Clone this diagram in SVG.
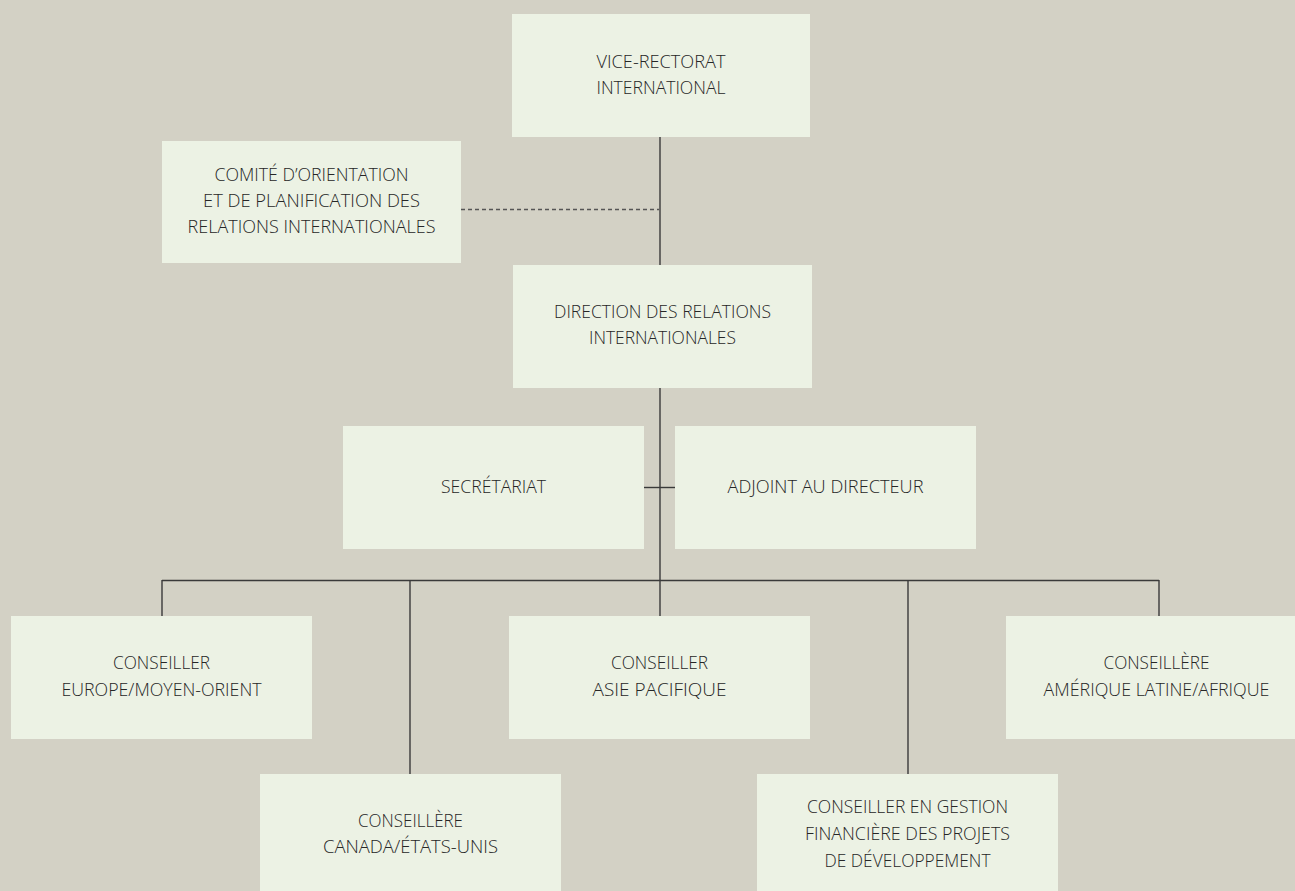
<svg xmlns="http://www.w3.org/2000/svg" width="1295" height="891" viewBox="0 0 1295 891">
<style>
.bg{fill:#d3d1c5}
.box{fill:#ecf2e4}
.t{font-family:"Open Sans","Liberation Sans",sans-serif;font-weight:300;font-size:18.5px;fill:#262626;text-anchor:middle}
.ln{stroke:#3a3a3a;stroke-width:1.4;fill:none}
.dash{stroke:#555;stroke-width:1.3;stroke-dasharray:4 3;fill:none}
</style>
<rect class="bg" x="0" y="0" width="1295" height="891"/>
<g id="connectors">
<line class="ln" x1="660" y1="137" x2="660" y2="265"/>
<line class="ln" x1="660" y1="388" x2="660" y2="616"/>
<line class="dash" x1="461" y1="209.5" x2="659" y2="209.5"/>
<line class="ln" x1="644" y1="487.5" x2="675" y2="487.5"/>
<line class="ln" x1="162" y1="580.5" x2="1159" y2="580.5"/>
<line class="ln" x1="162" y1="580" x2="162" y2="616"/>
<line class="ln" x1="410" y1="580" x2="410" y2="774"/>
<line class="ln" x1="908" y1="580" x2="908" y2="774"/>
<line class="ln" x1="1159" y1="580" x2="1159" y2="616"/>
</g>
<g id="vice-rectorat">
<rect class="box" x="512" y="14" width="298" height="123"/>
<text class="t" x="661" y="68" textLength="129" lengthAdjust="spacingAndGlyphs">VICE-RECTORAT</text>
<text class="t" x="661" y="94" textLength="129" lengthAdjust="spacingAndGlyphs">INTERNATIONAL</text>
</g>
<g id="comite">
<rect class="box" x="162" y="141" width="299" height="122"/>
<text class="t" x="311.5" y="181" textLength="194" lengthAdjust="spacingAndGlyphs">COMITÉ D’ORIENTATION</text>
<text class="t" x="311.5" y="207" textLength="217" lengthAdjust="spacingAndGlyphs">ET DE PLANIFICATION DES</text>
<text class="t" x="311.5" y="233" textLength="248" lengthAdjust="spacingAndGlyphs">RELATIONS INTERNATIONALES</text>
</g>
<g id="direction">
<rect class="box" x="513" y="265" width="299" height="123"/>
<text class="t" x="662.5" y="318" textLength="217" lengthAdjust="spacingAndGlyphs">DIRECTION DES RELATIONS</text>
<text class="t" x="662.5" y="344" textLength="147" lengthAdjust="spacingAndGlyphs">INTERNATIONALES</text>
</g>
<g id="secretariat">
<rect class="box" x="343" y="426" width="301" height="123"/>
<text class="t" x="493.5" y="493" textLength="105" lengthAdjust="spacingAndGlyphs">SECRÉTARIAT</text>
</g>
<g id="adjoint">
<rect class="box" x="675" y="426" width="301" height="123"/>
<text class="t" x="825.5" y="493" textLength="196" lengthAdjust="spacingAndGlyphs">ADJOINT AU DIRECTEUR</text>
</g>
<g id="europe">
<rect class="box" x="11" y="616" width="301" height="123"/>
<text class="t" x="161.5" y="669" textLength="97" lengthAdjust="spacingAndGlyphs">CONSEILLER</text>
<text class="t" x="161.5" y="696" textLength="200" lengthAdjust="spacingAndGlyphs">EUROPE/MOYEN-ORIENT</text>
</g>
<g id="asie">
<rect class="box" x="509" y="616" width="301" height="123"/>
<text class="t" x="659.5" y="669" textLength="97" lengthAdjust="spacingAndGlyphs">CONSEILLER</text>
<text class="t" x="659.5" y="696" textLength="134" lengthAdjust="spacingAndGlyphs">ASIE PACIFIQUE</text>
</g>
<g id="amerique">
<rect class="box" x="1006" y="616" width="301" height="123"/>
<text class="t" x="1156.5" y="669" textLength="106" lengthAdjust="spacingAndGlyphs">CONSEILLÈRE</text>
<text class="t" x="1156.5" y="696" textLength="226" lengthAdjust="spacingAndGlyphs">AMÉRIQUE LATINE/AFRIQUE</text>
</g>
<g id="canada">
<rect class="box" x="260" y="774" width="301" height="123"/>
<text class="t" x="410.5" y="827" textLength="105" lengthAdjust="spacingAndGlyphs">CONSEILLÈRE</text>
<text class="t" x="410.5" y="853" textLength="175" lengthAdjust="spacingAndGlyphs">CANADA/ÉTATS-UNIS</text>
</g>
<g id="financiere">
<rect class="box" x="757" y="774" width="301" height="123"/>
<text class="t" x="907.5" y="813" textLength="201" lengthAdjust="spacingAndGlyphs">CONSEILLER EN GESTION</text>
<text class="t" x="907.5" y="840" textLength="205" lengthAdjust="spacingAndGlyphs">FINANCIÈRE DES PROJETS</text>
<text class="t" x="907.5" y="867" textLength="166" lengthAdjust="spacingAndGlyphs">DE DÉVELOPPEMENT</text>
</g>
</svg>
